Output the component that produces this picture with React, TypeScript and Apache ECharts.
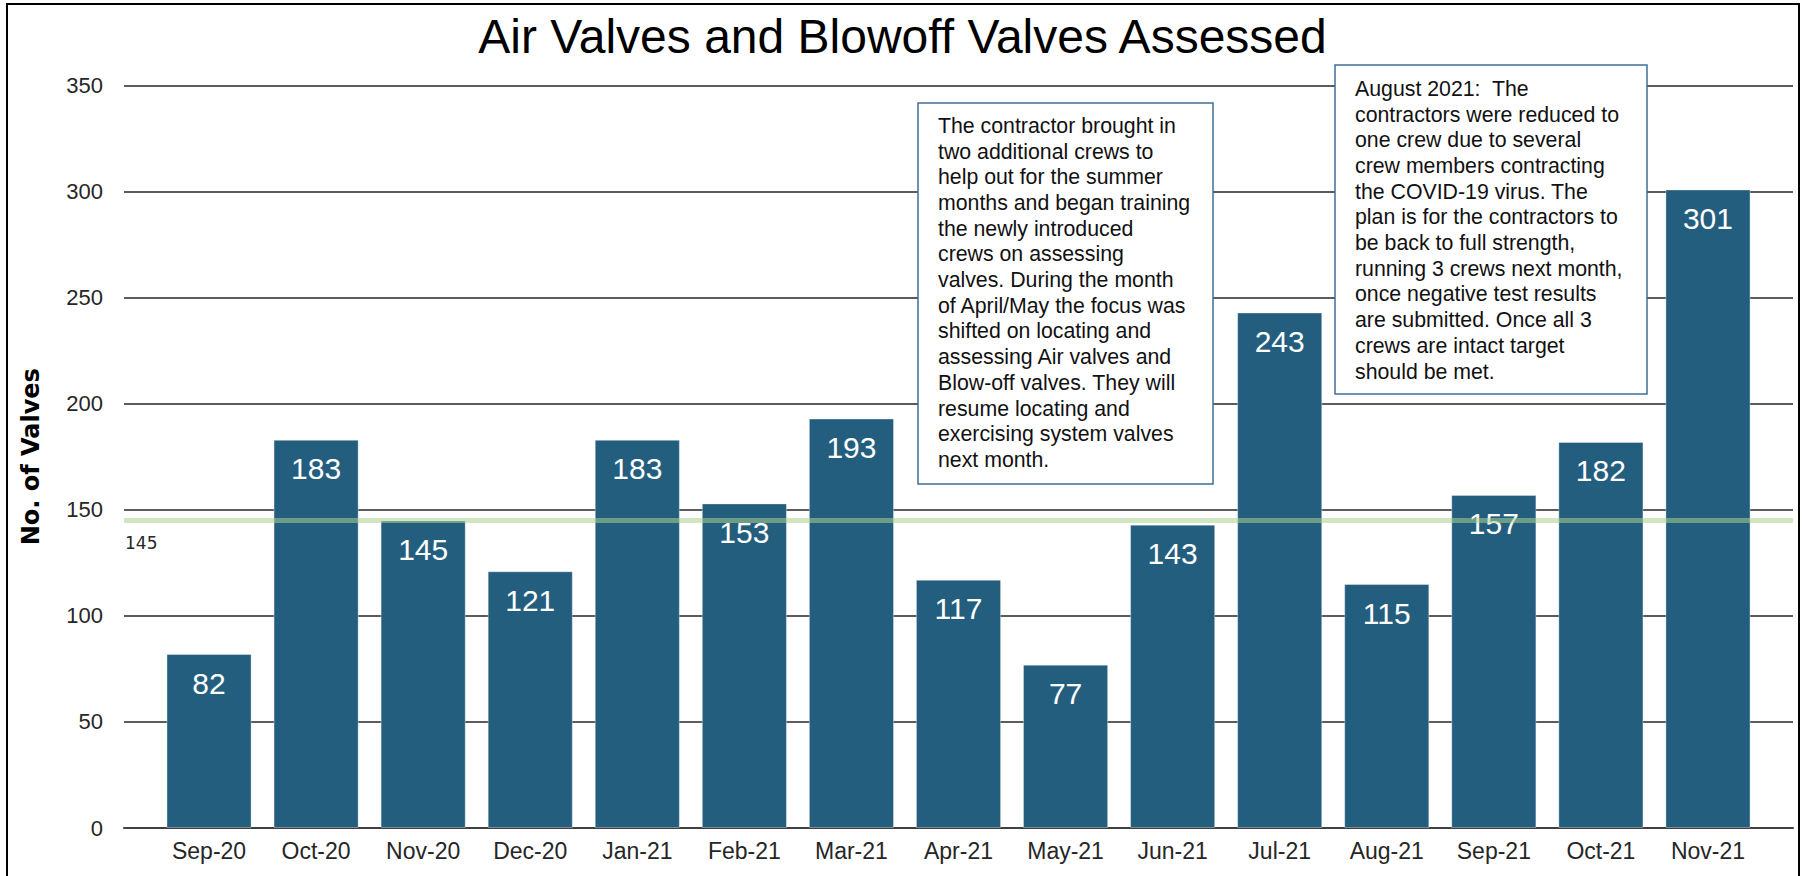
import React, { useEffect, useRef } from "react";
import * as echarts from "echarts";

const categories = ["Sep-20", "Oct-20", "Nov-20", "Dec-20", "Jan-21", "Feb-21", "Mar-21", "Apr-21", "May-21", "Jun-21", "Jul-21", "Aug-21", "Sep-21", "Oct-21", "Nov-21"];
const assessed = [82, 183, 145, 121, 183, 153, 193, 117, 77, 143, 243, 115, 157, 182, 301];
const target = 145;
const yMin = 0;
const yMax = 350;
const yInterval = 50;

const titleText = "Air Valves and Blowoff Valves Assessed";
const yAxisTitle = "No. of Valves";

const note1Lines = [
  "The contractor brought in",
  "two additional crews to",
  "help out for the summer",
  "months and began training",
  "the newly introduced",
  "crews on assessing",
  "valves. During the month",
  "of April/May the focus was",
  "shifted on locating and",
  "assessing Air valves and",
  "Blow-off valves. They will",
  "resume locating and",
  "exercising system valves",
  "next month.",
];
const note2Lines = [
  "August 2021:  The",
  "contractors were reduced to",
  "one crew due to several",
  "crew members contracting",
  "the COVID-19 virus. The",
  "plan is for the contractors to",
  "be back to full strength,",
  "running 3 crews next month,",
  "once negative test results",
  "are submitted. Once all 3",
  "crews are intact target",
  "should be met.",
];

const FONT = "'Liberation Sans', Arial, sans-serif";

export default function App() {
  const ref = useRef<HTMLDivElement>(null);
  useEffect(() => {
    if (!ref.current) return;
    const chart = echarts.init(ref.current, null, { renderer: "svg" });
    const noteBox = (x: number, y: number, w: number, h: number, lines: string[], textTop: number) => [
      {
        type: "rect",
        z: 50,
        zlevel: 0,
        shape: { x, y, width: w, height: h },
        style: { fill: "#ffffff", stroke: "#3F6F95", lineWidth: 1.5 },
      },
      {
        type: "text",
        z: 51,
        x: x + 20,
        y: textTop,
        style: {
          text: lines.join("\n"),
          fontSize: 21.3,
          fontFamily: FONT,
          lineHeight: 25.7,
          fill: "#111111",
          textAlign: "left",
          textVerticalAlign: "top",
        },
      },
    ];
    chart.setOption({
      animation: false,
      backgroundColor: "#ffffff",
      title: {
        text: titleText,
        left: "center",
        top: 7,
        textStyle: { fontFamily: FONT, fontSize: 48, fontWeight: "normal", color: "#000000" },
      },
      grid: [
        { left: 155.5, right: 43.5, top: 85.5, bottom: 48 },
        { left: 124, right: 12, top: 85.5, bottom: 48 },
      ],
      xAxis: [
        {
          type: "category",
          gridIndex: 0,
          data: categories,
          axisLine: { show: false },
          axisTick: { show: false },
          axisLabel: { fontFamily: FONT, fontSize: 23, color: "#262626", margin: 11 },
        },
        {
          type: "value",
          gridIndex: 1,
          min: 0,
          max: 1,
          axisLine: { show: true, onZero: false, lineStyle: { color: "#404040", width: 2 } },
          axisTick: { show: false },
          axisLabel: { show: false },
          splitLine: { show: false },
        },
      ],
      yAxis: [
        {
          type: "value",
          gridIndex: 0,
          min: yMin,
          max: yMax,
          interval: yInterval,
          show: false,
          splitLine: { show: false },
        },
        {
          type: "value",
          gridIndex: 1,
          min: yMin,
          max: yMax,
          interval: yInterval,
          name: yAxisTitle,
          nameLocation: "middle",
          nameGap: 81,
          nameRotate: 90,
          nameTextStyle: { fontFamily: "'DejaVu Sans', sans-serif", fontWeight: "bold", fontSize: 24, color: "#000000" },
          axisLine: { show: false },
          axisTick: { show: false },
          axisLabel: { fontFamily: FONT, fontSize: 22, color: "#262626", margin: 21 },
          splitLine: { show: true, lineStyle: { color: "#262626", width: 1.5 } },
        },
      ],
      series: [
        {
          type: "bar",
          name: "Valves Assessed",
          xAxisIndex: 0,
          yAxisIndex: 0,
          data: assessed,
          barCategoryGap: "20.5%",
          itemStyle: { color: "#245E7F", borderColor: "rgba(255,255,255,0.35)", borderWidth: 1 },
          label: {
            show: true,
            position: "insideTop",
            distance: 14,
            color: "#ffffff",
            fontFamily: FONT,
            fontSize: 30,
          },
          z: 2,
        },
        {
          type: "line",
          name: "Target",
          xAxisIndex: 1,
          yAxisIndex: 1,
          data: [[0, target], [1, target]],
          symbol: "none",
          lineStyle: { opacity: 0 },
          silent: true,
          z: 5,
          markLine: {
            silent: true,
            symbol: "none",
            data: [{ yAxis: target }],
            lineStyle: { color: "rgba(169,209,142,0.55)", width: 5, type: "solid" },
            label: {
              show: true,
              position: "insideStartBottom",
              distance: [1, 14],
              formatter: "{c}",
              fontFamily: "'DejaVu Sans', sans-serif",
              fontSize: 17,
              color: "#262626",
            },
          },
        },
      ],
      graphic: [
        ...noteBox(918, 103, 295, 381, note1Lines, 113),
        ...noteBox(1335, 65, 312, 329, note2Lines, 76),
        {
          type: "rect",
          z: 100,
          shape: { x: 7, y: 4, width: 1792, height: 900 },
          style: { fill: "none", stroke: "#000000", lineWidth: 2 },
        },
      ],
    });
    return () => chart.dispose();
  }, []);
  return (
    <div style={{ position: "fixed", left: 0, top: 0, width: 1805, height: 876, background: "#fff" }}>
      <div ref={ref} style={{ width: 1805, height: 876 }} />
    </div>
  );
}
